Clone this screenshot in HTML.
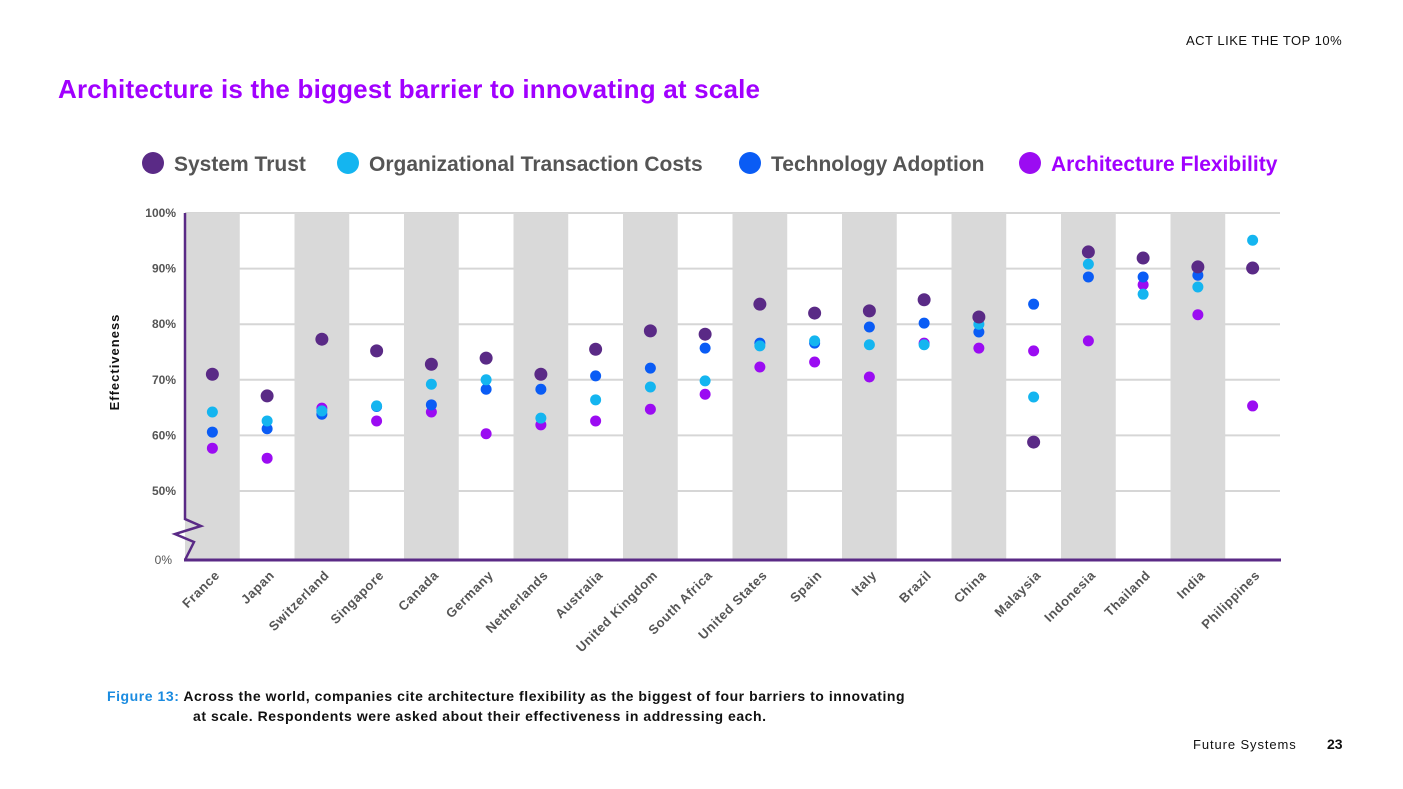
<!DOCTYPE html>
<html><head><meta charset="utf-8"><style>
body{margin:0;width:1403px;height:789px;background:#fff;font-family:"Liberation Sans",sans-serif;overflow:hidden;position:relative}
.a{position:absolute}
</style></head><body>
<div class="a" style="left:1186px;top:33px;font-size:13px;color:#111;letter-spacing:.5px">ACT LIKE THE TOP 10%</div>
<div class="a" style="left:58px;top:74px;font-size:26px;font-weight:bold;color:#a100ff;letter-spacing:0.2px">Architecture is the biggest barrier to innovating at scale</div>
<svg class="a" style="left:0;top:0" width="1403" height="789" id="chart">
<g id="legend"></g>
<g id="plot"></g>
</svg>
<div class="a" style="left:107px;top:686px;font-size:14px;font-weight:bold;color:#111;line-height:20px;letter-spacing:0.55px;white-space:nowrap"><span style="color:#1a8be0">Figure 13:</span> Across the world, companies cite architecture flexibility as the biggest of four barriers to innovating<br><span style="padding-left:86px">at scale. Respondents were asked about their effectiveness in addressing each.</span></div>
<div class="a" style="left:1193px;top:737px;font-size:13px;color:#111;letter-spacing:0.9px">Future Systems</div>
<div class="a" style="left:1327px;top:736px;font-size:14px;font-weight:bold;color:#111">23</div>
<script>
const categories=["France","Japan","Switzerland","Singapore","Canada","Germany","Netherlands","Australia","United Kingdom","South Africa","United States","Spain","Italy","Brazil","China","Malaysia","Indonesia","Thailand","India","Philippines"];
const systemTrust=[71.0,67.1,77.3,75.2,72.8,73.9,71.0,75.5,78.8,78.2,83.6,82.0,82.4,84.4,81.3,58.8,93.0,91.9,90.3,90.1];
const orgCosts=[64.2,62.6,64.4,65.3,69.2,70.0,63.1,66.4,68.7,69.8,76.1,77.0,76.3,76.3,80.0,66.9,90.8,85.4,86.7,95.1];
const techAdoption=[60.6,61.2,63.8,65.2,65.5,68.3,68.3,70.7,72.1,75.7,76.6,76.6,79.5,80.2,78.6,83.6,88.5,88.5,88.8,90.1];
const archFlex=[57.7,55.9,64.9,62.6,64.2,60.3,61.9,62.6,64.7,67.4,72.3,73.2,70.5,76.6,75.7,75.2,77.0,87.1,81.7,65.3];
const yTicks=[100,90,80,70,60,50];
const seriesNames=["System Trust","Organizational Transaction Costs","Technology Adoption","Architecture Flexibility"];
const NS="http://www.w3.org/2000/svg";
const X0=185,X1=1280,CW=(X1-X0)/categories.length;
function x(i){return X0+CW*(i+0.5);}
function y(v){return 213+(100-v)*5.56;}
const plot=document.getElementById('plot');
function mk(t,a,p){const e=document.createElementNS(NS,t);for(const k in a)e.setAttribute(k,a[k]);(p||plot).appendChild(e);return e;}
yTicks.forEach(t=>{const l=mk('line',{x1:X0,x2:X1,y1:y(t),y2:y(t),stroke:'#d6d6d6','stroke-width':2});


const tx=mk('text',{x:176,y:y(t)+4,'text-anchor':'end','font-size':12,'font-weight':'bold',fill:'#555'});tx.textContent=t+'%';

});
categories.forEach((c,i)=>{if(i%2===0){const r=mk('rect',{x:X0+CW*i,y:213,width:CW,height:347,fill:'#d9d9d9'});

}});
const z=mk('text',{x:172,y:564,'text-anchor':'end','font-size':12,fill:'#555'});z.textContent='0%';


const yt=mk('text',{transform:'translate(119,362) rotate(-90)','text-anchor':'middle','font-size':13,'font-weight':'bold',fill:'#111','letter-spacing':'1'});yt.textContent='Effectiveness';


const ax=mk('polyline',{points:'185,213 185,519 201,526 175,534 194,542 185,560',fill:'none',stroke:'#5a2a86','stroke-width':2.5});


const bx=mk('line',{x1:184,x2:1281,y1:560,y2:560,stroke:'#5a2a86','stroke-width':3});


categories.forEach((c,i)=>{const t=mk('text',{transform:`translate(${x(i)+8},${576}) rotate(-45)`,'text-anchor':'end','font-size':13,'font-weight':'bold',fill:'#555','letter-spacing':'0.6'});t.textContent=c;

});
const cols=['#5a2a86','#14b5f0','#0a5cf5','#9b0cf2'];
const radii=[6.5,5.5,5.5,5.5];
const data=[systemTrust,orgCosts,techAdoption,archFlex];
const drawOrder=[3,2,1,0];
drawOrder.forEach(s=>{data[s].forEach((v,i)=>{const d=mk('circle',{cx:x(i),cy:y(v),r:radii[s],fill:cols[s]});

});});
const lg=document.getElementById('legend');
const lx=[153,348,750,1030];
seriesNames.forEach((n,s)=>{const c=mk('circle',{cx:lx[s],cy:163,r:11,fill:cols[s]},lg);


const t=mk('text',{x:lx[s]+21,y:171,'font-size':21,'font-weight':'bold',fill:s===3?'#a100ff':'#555'},lg);t.textContent=n;

});
</script>
</body></html>
